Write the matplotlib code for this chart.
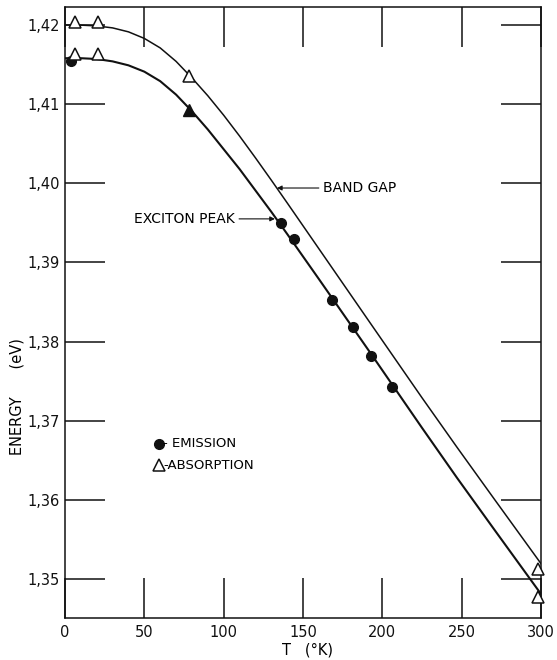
import matplotlib
matplotlib.use("Agg")
import matplotlib.pyplot as plt

# band gap and exciton peak curves (T in K, E in eV)
gap_T = [0, 10, 20, 30, 40, 50, 60, 70, 80, 90, 100, 110, 120, 130, 140, 160, 192, 225, 247, 270, 300]
gap_E = [1.42000, 1.41998, 1.41988, 1.41963, 1.41913, 1.41830, 1.41710, 1.41540, 1.41331,
         1.41106, 1.40860, 1.40597, 1.40322, 1.40040, 1.39753, 1.39173, 1.38245, 1.37290,
         1.36666, 1.36025, 1.35194]
exc_T = [0, 10, 20, 30, 40, 50, 60, 70, 80, 90, 100, 110, 120, 130, 140, 160, 192, 225, 247, 270, 300]
exc_E = [1.4158, 1.4158, 1.4157, 1.4154, 1.4149, 1.4141, 1.4129, 1.4112, 1.4091, 1.4068,
         1.4043, 1.4018, 1.3991, 1.3964, 1.3936, 1.3879, 1.3787, 1.3691, 1.3628, 1.3564, 1.3481]

# emission points (filled circles)
emis_T = [4, 136.1, 144.3, 168.5, 181.3, 193.0, 205.9]
emis_E = [1.4154, 1.3950, 1.3929, 1.3852, 1.3819, 1.3782, 1.3742]

# absorption points (open triangles), band gap and exciton
abs_gap_T = [6, 21, 78, 298]
abs_gap_E = [1.4204, 1.4204, 1.4135, 1.3512]
abs_exc_T = [6, 21, 298]
abs_exc_E = [1.4163, 1.4163, 1.3477]
# filled triangle at 77 K
abs_fill_T = [78]
abs_fill_E = [1.4093]

xticks = [0, 50, 100, 150, 200, 250, 300]
yticks = [1.35, 1.36, 1.37, 1.38, 1.39, 1.40, 1.41, 1.42]
ylabels = ["1,35", "1,36", "1,37", "1,38", "1,39", "1,40", "1,41", "1,42"]

K = "#111111"

fig = plt.figure(figsize=(5.57, 6.60), dpi=100)
ax = fig.add_axes([65 / 557, 1 - 617.7 / 660, (541 - 65) / 557, (617.7 - 7) / 660])

ax.plot(gap_T, gap_E, color=K, lw=1.1)
ax.plot(exc_T, exc_E, color=K, lw=1.5)

ax.plot(emis_T, emis_E, "o", color=K, ms=7, clip_on=False, zorder=3)
ax.plot(abs_gap_T, abs_gap_E, "^", mfc="white", mec=K, mew=1.1, ms=8, clip_on=False, zorder=3)
ax.plot(abs_exc_T, abs_exc_E, "^", mfc="white", mec=K, mew=1.1, ms=8, clip_on=False, zorder=3)
ax.plot(abs_fill_T, abs_fill_E, "^", color=K, ms=8, zorder=3)

ax.set_xlim(0, 300)
ax.set_ylim(1.34511, 1.42227)
ax.set_xticks(xticks)
ax.set_xticklabels([str(t) for t in xticks])
ax.set_yticks(yticks)
ax.set_yticklabels(ylabels)
ax.tick_params(direction="in", length=29, width=1.1, top=True, right=True,
               labelsize=10.5, colors=K)
ax.tick_params(axis="x", pad=5)
ax.tick_params(axis="y", pad=4)
for s in ax.spines.values():
    s.set_linewidth(1.1)
    s.set_color(K)

arr = dict(arrowstyle="-|>", lw=0.8, color=K, shrinkA=1, shrinkB=0, mutation_scale=7)
ax.annotate("BAND GAP", xy=(133.6, 1.3994), xytext=(162.6, 1.3994),
            ha="left", va="center", fontsize=10, arrowprops=arr)
ax.annotate("EXCITON PEAK", xy=(132.3, 1.3955), xytext=(107.1, 1.3955),
            ha="right", va="center", fontsize=10, arrowprops=arr)

# hand-drawn key
ax.plot([59.4], [1.3671], "o", color=K, ms=7)
ax.text(62.0, 1.3671, "- EMISSION", ha="left", va="center", fontsize=9.5)
ax.plot([59.0], [1.3644], "^", mfc="white", mec=K, mew=1.1, ms=8)
ax.text(62.3, 1.3644, "-ABSORPTION", ha="left", va="center", fontsize=9.5)

fig.text(308 / 557, 1 - 650 / 660, "T   (°K)", ha="center", va="center", fontsize=10.5)
fig.text(17 / 557, 1 - 397 / 660, "ENERGY      (eV)", ha="center", va="center",
         rotation=90, fontsize=10.5)

fig.savefig("out.png", dpi=100)
